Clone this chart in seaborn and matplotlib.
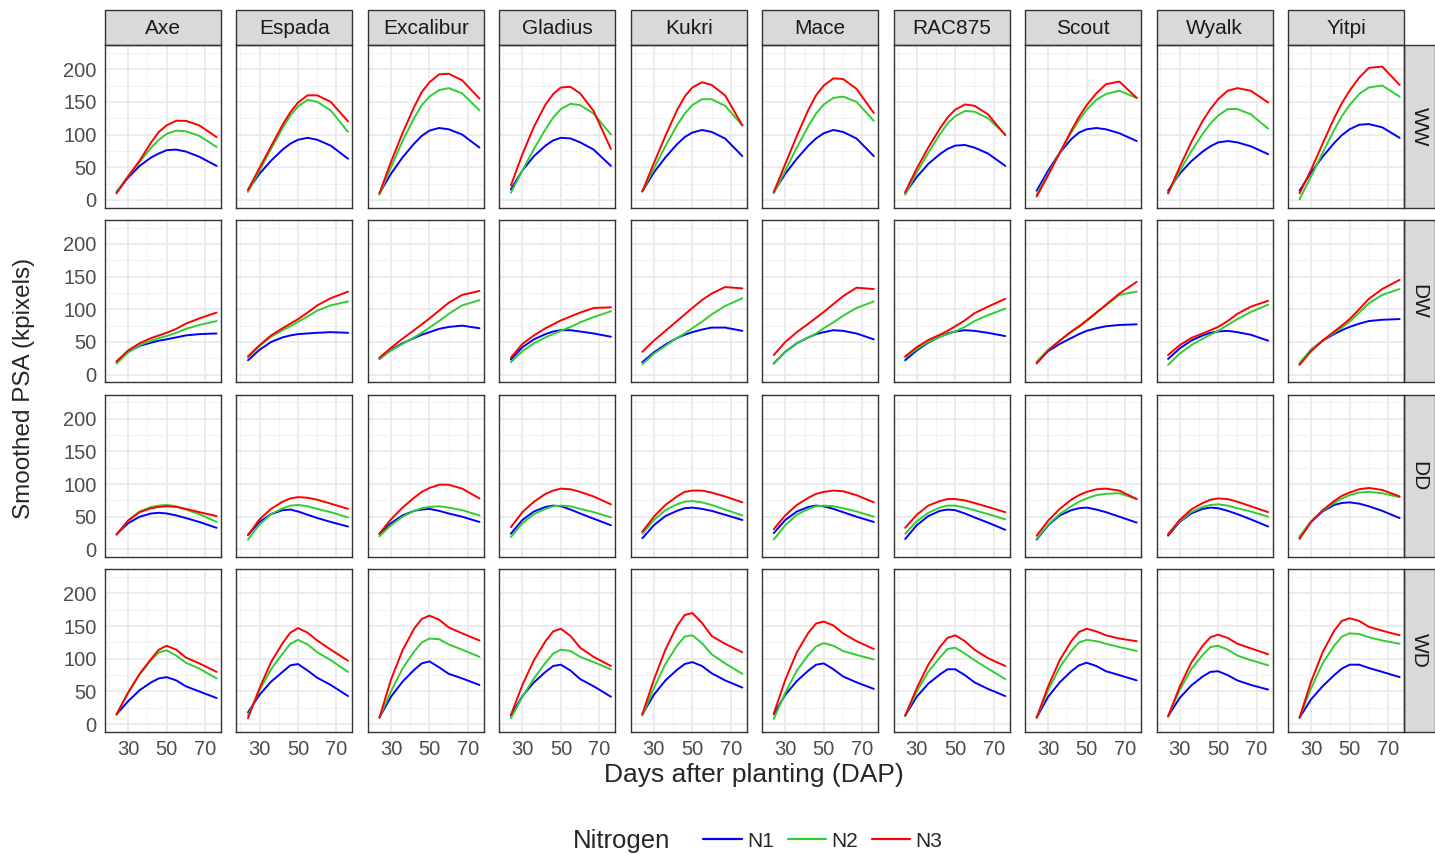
import pandas as pd
import matplotlib.pyplot as plt
from matplotlib.patches import Rectangle
from matplotlib.lines import Line2D
import seaborn as sns

# sampling days (DAP) at which the smoothed curves were read
dap = [24, 30, 36, 42, 46, 50, 55, 60, 67, 76]
cultivars = ["Axe", "Espada", "Excalibur", "Gladius", "Kukri",
             "Mace", "RAC875", "Scout", "Wyalk", "Yitpi"]
treatments = ["WW", "DW", "DD", "WD"]
nitrogen = ["N1", "N2", "N3"]

# one row per cultivar (same order as cultivars), values in kpixels
ww_n1 = [[12, 34, 52, 65, 71, 76, 77, 74, 66, 52],
         [15, 40, 60, 77, 86, 92, 95, 92, 83, 63],
         [10, 40, 65, 86, 98, 106, 110, 108, 100, 80],
         [16, 45, 67, 83, 91, 95, 94, 88, 77, 52],
         [13, 42, 65, 85, 96, 103, 107, 104, 94, 67],
         [12, 40, 63, 83, 94, 102, 107, 104, 94, 67],
         [10, 35, 55, 70, 78, 83, 84, 80, 71, 52],
         [14, 45, 72, 93, 103, 108, 110, 108, 102, 90],
         [14, 40, 59, 74, 82, 88, 90, 88, 82, 70],
         [14, 42, 66, 87, 99, 108, 115, 116, 111, 95]]
ww_n2 = [[12, 36, 58, 80, 92, 101, 106, 105, 98, 81],
         [12, 45, 78, 110, 129, 143, 153, 150, 137, 104],
         [8, 50, 90, 125, 145, 158, 168, 171, 163, 137],
         [11, 45, 78, 108, 126, 139, 147, 145, 132, 100],
         [13, 48, 82, 114, 132, 145, 154, 154, 144, 114],
         [10, 45, 80, 113, 132, 146, 156, 158, 150, 121],
         [8, 42, 72, 100, 117, 128, 136, 135, 125, 100],
         [8, 40, 72, 103, 122, 138, 153, 162, 167, 156],
         [10, 44, 74, 101, 117, 129, 139, 139, 131, 109],
         [1, 36, 72, 107, 128, 145, 162, 172, 175, 158]]
ww_n3 = [[10, 36, 60, 88, 104, 114, 121, 121, 114, 96],
         [15, 49, 82, 115, 134, 149, 160, 160, 150, 120],
         [10, 58, 102, 142, 165, 180, 192, 193, 183, 155],
         [22, 70, 112, 146, 162, 172, 173, 163, 136, 78],
         [13, 56, 98, 137, 158, 172, 180, 176, 160, 114],
         [12, 55, 98, 138, 160, 175, 186, 185, 170, 133],
         [12, 48, 80, 109, 126, 138, 146, 144, 131, 99],
         [5, 38, 72, 106, 127, 145, 163, 177, 181, 156],
         [10, 50, 88, 121, 139, 154, 167, 171, 167, 149],
         [10, 46, 86, 125, 148, 167, 187, 202, 204, 176]]

dw_n1 = [[20, 35, 44, 49, 52, 54, 57, 60, 62, 63],
         [22, 38, 50, 57, 60, 62, 63, 64, 65, 64],
         [24, 38, 48, 56, 61, 65, 70, 73, 75, 71],
         [23, 42, 54, 62, 66, 68, 68, 66, 63, 58],
         [19, 34, 46, 56, 61, 65, 69, 72, 72, 67],
         [17, 35, 48, 57, 62, 65, 68, 67, 63, 54],
         [22, 37, 49, 58, 63, 66, 68, 67, 64, 59],
         [18, 36, 47, 56, 62, 67, 71, 74, 76, 77],
         [24, 40, 52, 60, 64, 66, 67, 65, 61, 52],
         [16, 38, 52, 62, 68, 73, 78, 82, 84, 85]]
dw_n2 = [[17, 34, 45, 52, 56, 59, 64, 70, 76, 82],
         [26, 44, 58, 68, 74, 81, 89, 98, 106, 112],
         [24, 37, 47, 57, 64, 72, 82, 93, 106, 114],
         [19, 36, 48, 57, 62, 67, 73, 80, 88, 97],
         [16, 32, 44, 56, 63, 71, 81, 92, 105, 117],
         [17, 35, 48, 57, 63, 71, 80, 90, 102, 112],
         [26, 39, 50, 58, 62, 66, 73, 82, 91, 101],
         [20, 38, 52, 65, 73, 82, 94, 106, 122, 127],
         [15, 32, 45, 55, 61, 67, 76, 85, 96, 107],
         [18, 38, 52, 64, 72, 81, 95, 109, 122, 131]]
dw_n3 = [[20, 37, 48, 56, 60, 64, 70, 78, 86, 95],
         [28, 45, 60, 71, 78, 85, 95, 106, 117, 127],
         [26, 41, 55, 68, 77, 86, 98, 110, 122, 128],
         [26, 47, 60, 71, 77, 83, 89, 95, 102, 103],
         [35, 52, 67, 82, 92, 102, 114, 124, 134, 132],
         [30, 50, 65, 78, 87, 96, 108, 120, 133, 131],
         [28, 42, 53, 61, 67, 74, 83, 94, 104, 116],
         [17, 37, 52, 66, 74, 83, 95, 107, 124, 142],
         [30, 45, 56, 63, 68, 73, 82, 93, 104, 113],
         [15, 36, 52, 66, 75, 85, 100, 116, 131, 145]]

dd_n1 = [[23, 40, 50, 55, 56, 55, 52, 48, 42, 33],
         [22, 42, 54, 60, 61, 58, 53, 48, 42, 35],
         [24, 40, 52, 59, 61, 62, 59, 55, 50, 42],
         [24, 45, 58, 65, 67, 66, 61, 55, 47, 37],
         [17, 37, 51, 59, 63, 64, 62, 59, 53, 45],
         [25, 45, 58, 65, 67, 66, 62, 57, 50, 42],
         [16, 37, 51, 59, 61, 60, 55, 49, 41, 30],
         [15, 37, 52, 60, 63, 64, 61, 57, 50, 41],
         [21, 42, 55, 62, 64, 63, 59, 54, 46, 35],
         [18, 42, 58, 68, 71, 72, 70, 66, 59, 48]]
dd_n2 = [[22, 44, 58, 65, 67, 68, 66, 61, 54, 42],
         [15, 38, 54, 63, 67, 68, 66, 62, 57, 49],
         [20, 37, 50, 59, 63, 65, 66, 64, 60, 52],
         [19, 40, 54, 62, 66, 67, 66, 62, 57, 49],
         [24, 45, 60, 69, 73, 74, 72, 68, 61, 52],
         [15, 37, 53, 62, 66, 67, 66, 63, 58, 50],
         [24, 43, 56, 64, 67, 67, 64, 60, 54, 46],
         [16, 38, 54, 66, 73, 78, 83, 85, 86, 77],
         [23, 43, 57, 65, 68, 69, 67, 63, 58, 50],
         [20, 43, 59, 71, 78, 83, 87, 88, 86, 80]]
dd_n3 = [[23, 44, 57, 63, 65, 66, 65, 62, 57, 51],
         [22, 46, 62, 73, 78, 80, 79, 76, 70, 62],
         [24, 46, 64, 79, 88, 94, 99, 99, 93, 78],
         [34, 57, 73, 85, 90, 93, 92, 88, 81, 69],
         [27, 50, 68, 81, 88, 90, 90, 87, 81, 72],
         [31, 52, 68, 79, 85, 88, 90, 89, 83, 72],
         [33, 53, 67, 74, 77, 77, 75, 71, 65, 57],
         [21, 44, 62, 76, 83, 88, 92, 93, 90, 77],
         [23, 45, 61, 71, 76, 78, 77, 73, 66, 57],
         [16, 42, 60, 74, 82, 87, 92, 94, 91, 81]]

wd_n1 = [[15, 35, 52, 64, 70, 72, 67, 58, 50, 40],
         [18, 45, 65, 80, 90, 92, 82, 71, 60, 43],
         [10, 42, 65, 83, 93, 96, 87, 77, 70, 60],
         [13, 43, 64, 80, 89, 91, 82, 69, 58, 42],
         [15, 45, 67, 83, 92, 95, 89, 78, 67, 56],
         [15, 45, 66, 82, 91, 93, 84, 73, 64, 54],
         [13, 42, 62, 76, 84, 84, 75, 64, 54, 43],
         [10, 42, 64, 81, 90, 94, 89, 81, 75, 67],
         [12, 40, 59, 73, 80, 81, 75, 67, 60, 53],
         [10, 38, 58, 75, 85, 91, 91, 86, 80, 72]]
wd_n2 = [[15, 48, 76, 98, 110, 113, 105, 94, 85, 70],
         [13, 52, 84, 108, 123, 129, 122, 110, 98, 80],
         [10, 50, 85, 111, 125, 131, 130, 122, 114, 103],
         [9, 42, 70, 94, 108, 114, 112, 103, 95, 84],
         [13, 55, 92, 120, 134, 136, 124, 107, 93, 77],
         [8, 48, 82, 106, 119, 124, 120, 112, 106, 99],
         [13, 50, 80, 102, 115, 117, 108, 98, 85, 69],
         [10, 52, 87, 112, 125, 129, 127, 123, 118, 112],
         [12, 52, 84, 106, 118, 120, 114, 105, 98, 90],
         [10, 55, 93, 120, 134, 139, 138, 133, 128, 123]]
wd_n3 = [[15, 48, 77, 100, 114, 120, 114, 102, 93, 80],
         [9, 55, 95, 124, 140, 147, 140, 128, 114, 97],
         [10, 68, 113, 146, 161, 166, 160, 148, 139, 128],
         [14, 60, 98, 127, 142, 146, 135, 117, 103, 89],
         [15, 68, 114, 150, 167, 170, 155, 135, 123, 110],
         [16, 68, 110, 140, 154, 157, 151, 139, 127, 115],
         [13, 55, 91, 118, 132, 136, 127, 114, 101, 89],
         [10, 58, 98, 127, 141, 146, 142, 136, 131, 127],
         [12, 57, 94, 120, 133, 137, 132, 123, 116, 107],
         [10, 65, 110, 143, 158, 162, 158, 149, 143, 136]]

curves = {
    ("WW", "N1"): ww_n1, ("WW", "N2"): ww_n2, ("WW", "N3"): ww_n3,
    ("DW", "N1"): dw_n1, ("DW", "N2"): dw_n2, ("DW", "N3"): dw_n3,
    ("DD", "N1"): dd_n1, ("DD", "N2"): dd_n2, ("DD", "N3"): dd_n3,
    ("WD", "N1"): wd_n1, ("WD", "N2"): wd_n2, ("WD", "N3"): wd_n3,
}

records = []
for (trt, n), table in curves.items():
    for cv, vals in zip(cultivars, table):
        for d, v in zip(dap, vals):
            records.append((trt, cv, n, d, v))
df = pd.DataFrame(records, columns=["Treatment", "Cultivar", "Nitrogen", "DAP", "PSA"])

palette = {"N1": "#0000FF", "N2": "#33CC33", "N3": "#FF0000"}

sns.set_style("white")
plt.rcParams["font.family"] = ["Liberation Sans", "DejaVu Sans"]

g = sns.relplot(data=df, x="DAP", y="PSA", hue="Nitrogen", row="Treatment", col="Cultivar",
                kind="line", palette=palette, hue_order=nitrogen,
                row_order=treatments, col_order=cultivars, linewidth=1.4,
                legend=False, height=2, aspect=0.7,
                facet_kws=dict(sharex=True, sharey=True, despine=False))

g.set_titles("")
g.set_axis_labels("", "")
fig = g.figure
fig.set_size_inches(14.35, 8.55)
fig.subplots_adjust(left=105 / 1435, right=1404 / 1435, top=1 - 45 / 855,
                    bottom=1 - 732 / 855, wspace=0.133, hspace=0.074)

border = "#333333"
for i, trt in enumerate(treatments):
    for j, cv in enumerate(cultivars):
        ax = g.axes[i, j]
        ax.set_xlim(18, 78.3)
        ax.set_ylim(-12, 237)
        ax.set_xticks([30, 50, 70])
        ax.set_xticks([20, 40, 60], minor=True)
        ax.set_yticks([0, 50, 100, 150, 200])
        ax.set_yticks([25, 75, 125, 175, 225], minor=True)
        ax.grid(which="major", color="#EBEBEB", lw=1.3)
        ax.grid(which="minor", color="#F2F2F2", lw=0.7)
        ax.set_axisbelow(True)
        for sp in ax.spines.values():
            sp.set_color(border)
            sp.set_linewidth(1.0)
        ax.tick_params(which="major", length=4, width=1, color=border,
                       labelcolor="#4D4D4D", labelsize=14.5, pad=2)
        ax.tick_params(which="minor", length=0)
        ax.set_xlabel("")
        ax.set_ylabel("")

        if i == 0:
            ax.add_patch(Rectangle((0, 1), 1, 0.215, transform=ax.transAxes, clip_on=False,
                                   facecolor="#D9D9D9", edgecolor=border, lw=1.0))
            ax.text(0.5, 1.1, cv, transform=ax.transAxes, ha="center", va="center",
                    fontsize=15, color="#1A1A1A")
        if j == len(cultivars) - 1:
            ax.add_patch(Rectangle((1, 0), 0.27, 1, transform=ax.transAxes, clip_on=False,
                                   facecolor="#D9D9D9", edgecolor=border, lw=1.0))
            ax.text(1.13, 0.5, trt, transform=ax.transAxes, ha="center", va="center",
                    rotation=270, fontsize=15, color="#1A1A1A")

fig.text(24 / 1435, 1 - 388 / 855, "Smoothed PSA (kpixels)", rotation=90,
         ha="center", va="center", fontsize=17.5)
fig.text(754 / 1435, 1 - 775 / 855, "Days after planting (DAP)",
         ha="center", va="center", fontsize=19)

# legend along the bottom
fig.text(573 / 1435, 1 - 841 / 855, "Nitrogen", ha="left", va="center", fontsize=18.5)
handles = [Line2D([], [], color=palette[n], lw=1.6) for n in nitrogen]
fig.legend(handles, nitrogen, loc="center left", bbox_to_anchor=(693 / 1435, 1 - 841 / 855),
           ncol=3, frameon=False, fontsize=15, handlelength=1.85, handletextpad=0.25,
           columnspacing=0.65, borderpad=0)

fig.savefig("out.png", dpi=100)
